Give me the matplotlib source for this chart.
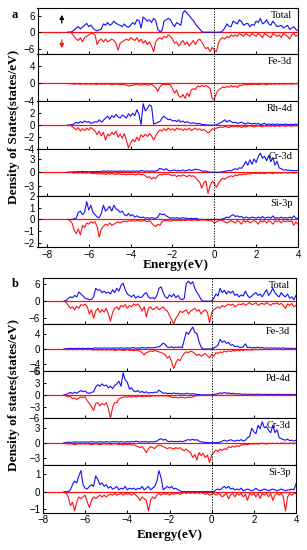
import numpy as np
import matplotlib
matplotlib.use("Agg")
import matplotlib.pyplot as plt

# ---------------- data (energy grid -7.0 ... 4.0 eV, step 0.1) ----------------
energy = np.round(np.linspace(-7.0, 4.0, 111), 2)

# panel a
a_total_up = [0, 0, 0.2, 0.8, 1.5, 2.0, 1.2, 1.8, 2.5, 3.2,
              2.0, 2.6, 1.5, 0.8, 0.5, 0.8, 1.2, 3.0, 2.5, 3.5,
              2.5, 3.0, 4.0, 3.2, 2.8, 2.5, 2.0, 3.0, 2.0, 1.8,
              2.5, 3.5, 2.8, 4.5, 4.2, 1.5, 5.5, 4.8, 4.0, 4.5,
              3.5, 5.0, 4.2, 1.0, 0.2, 0.5, 4.0, 4.5, 5.0, 4.5,
              3.0, 2.0, 3.5, 3.0, 2.5, 7.0, 7.8, 6.8, 6.0, 5.0,
              4.2, 3.0, 2.0, 1.2, 0.2, 0, 0, 0, 0, 0,
              0, 0, 0, 0, 0.5, 1.5, 3.0, 2.2, 2.0, 4.0,
              3.5, 3.0, 4.5, 3.8, 2.5, 3.0, 3.2, 2.0, 2.8, 2.5,
              4.0, 3.5, 5.0, 3.0, 3.5, 4.5, 3.0, 2.5, 4.0, 3.0,
              2.0, 2.2, 2.5, 1.5, 2.0, 2.5, 1.0, 1.5, 2.0, 1.0,
              0.5]
a_total_dn = [0, 0, -0.5, -1.5, -2.5, -3, -2, -3.5, -2, -1.5,
              -1, -0.5, -0.5, -1, -4.5, -3, -2.5, -3.5, -2.5, -3.5,
              -3, -2.5, -3, -4, -6.5, -4, -3.5, -3, -2.5, -3,
              -2, -2.5, -3, -2, -3.5, -2.5, -4, -3, -4.5, -3.5,
              -5, -7, -3.5, -2.5, -2, -2.5, -1.5, -2, -1, -1.5,
              -2.5, -4, -3.5, -5, -4, -3, -4.5, -3.5, -5, -4,
              -3, -4.5, -3, -2.5, -3.5, -5, -6, -5.5, -7, -5.5,
              -6.5, -7, -4, -2.5, -2, -2.5, -1.5, -2, -1, -1.5,
              -1, -1.5, -0.5, -1, -1.5, -0.5, -1, -1.5, -0.5, -1,
              -1.5, -0.5, -1, -2, -0.5, -1, -1.5, -2, -0.5, -1,
              -1.5, -1, -2, -0.5, -1, -1.5, -2.5, -1, -0.5, -1.5,
              -1]
a_fe_dn = [0, -0.1, -0.1, -0.2, -0.1, -0.15, -0.2, -0.1, -0.15, -0.2,
           -0.1, -0.2, -0.1, -0.2, -0.25, -0.1, -0.2, -0.15, -0.2, -0.1,
           -0.2, -0.3, -0.2, -0.15, -0.2, -0.3, -0.2, -0.3, -0.4, -0.6,
           -0.5, -0.4, -0.3, -0.2, -0.3, -0.4, -0.3, -0.2, -0.4, -0.3,
           -0.2, -0.6, -1.0, -1.8, -0.8, -0.3, -0.2, -0.3, -0.2, -0.3,
           -1.2, -2.2, -1.5, -2.8, -3.2, -2.5, -3.4, -2.2, -3.0, -1.5,
           -1.2, -1.4, -0.6, -0.8, -0.5, -0.7, -0.5, -0.8, -1.2, -3.5,
           -3.6, -2.2, -1.5, -1.2, -0.8, -1.0, -0.7, -0.9, -0.5, -0.8,
           -0.6, -0.9, -0.4, -0.5, -0.3, -0.2, -0.3, -0.2, -0.3, -0.2,
           -0.2, -0.3, -0.2, -0.1, -0.2, -0.3, -0.1, -0.2, -0.1, -0.2,
           -0.1, -0.2, -0.1, -0.2, -0.1, -0.15, -0.1, -0.2, -0.1, -0.1,
           -0.1]
a_rh_up = [0, 0, 0.1, 0.2, 0.5, 0.3, 0.6, 0.4, 0.7, 0.5,
           0.6, 0.3, 0.4, 0.6, 0.5, 0.9, 0.5, 0.8, 1.2, 1.5,
           1.0, 1.6, 1.3, 1.8, 1.4, 1.2, 1.7, 1.5, 1.2, 1.9,
           1.5, 2.0, 1.6, 2.6, 1.8, 0.1, 3.6, 2.4, 2.8, 3.4,
           3.2, 0.2, 0.3, 0.5, 0.6, 1.2, 1.5, 1.2, 0.9, 1.0,
           0.7, 0.8, 0.6, 0.9, 0.5, 0.7, 0.4, 0.6, 0.4, 0.3,
           0.4, 0.3, 0.2, 0.3, 0.1, 0.1, 0.05, 0, 0, 0,
           0, 0.1, 0.2, 0.4, 0.6, 0.9, 0.5, 0.8, 0.6, 0.4,
           0.5, 0.3, 0.4, 0.5, 0.3, 0.2, 0.4, 0.3, 0.2, 0.3,
           0.2, 0.3, 0.1, 0.2, 0.3, 0.1, 0.2, 0.1, 0.2, 0.1,
           0.2, 0.1, 0.15, 0.1, 0.2, 0.1, 0.1, 0.15, 0.1, 0.2,
           0.1]
a_rh_dn = [0, 0, -0.2, -0.5, -0.8, -0.4, -1.0, -0.6, -0.9, -0.5,
           -0.8, -0.4, -0.7, -1.0, -1.6, -1.0, -1.8, -1.2, -2.5, -1.5,
           -1.8, -1.2, -1.6, -1.0, -2.0, -1.5, -2.2, -1.4, -2.6, -3.8,
           -3.0, -2.4, -2.8, -2.0, -2.6, -1.6, -2.0, -1.5, -1.9, -1.4,
           -1.8, -2.5, -1.8, -1.2, -0.8, -1.0, -0.6, -0.9, -0.5, -0.8,
           -0.6, -0.9, -0.5, -0.7, -0.6, -0.9, -0.6, -0.8, -0.5, -0.9,
           -0.7, -0.5, -0.8, -0.6, -0.9, -0.7, -1.0, -1.3, -1.1, -0.6,
           -0.7, -0.5, -0.4, -0.3, -0.4, -0.2, -0.3, -0.4, -0.2, -0.3,
           -0.2, -0.3, -0.2, -0.4, -0.2, -0.3, -0.2, -0.1, -0.2, -0.3,
           -0.2, -0.1, -0.2, -0.3, -0.1, -0.2, -0.1, -0.2, -0.1, -0.2,
           -0.1, -0.2, -0.1, -0.1, -0.2, -0.1, -0.1, -0.2, -0.1, -0.1,
           -0.1]
a_cr_up = [0, 0, 0.05, 0.1, 0.1, 0.15, 0.1, 0.2, 0.1, 0.15,
           0.1, 0.1, 0.15, 0.1, 0.2, 0.1, 0.2, 0.3, 0.2, 0.3,
           0.2, 0.3, 0.2, 0.25, 0.2, 0.3, 0.2, 0.3, 0.2, 0.25,
           0.2, 0.3, 0.2, 0.3, 0.2, 0.4, 0.3, 0.2, 0.3, 0.2,
           0.3, 0.2, 0.3, 0.4, 0.9, 0.7, 0.5, 0.8, 0.4, 0.3,
           0.4, 0.5, 0.3, 0.4, 0.3, 0.5, 0.3, 0.4, 0.6, 0.4,
           0.5, 0.7, 0.6, 0.5, 0.3, 0.2, 0.3, 0.1, 0, 0,
           0, 0, 0, 0.05, 0.1, 0.2, 0.3, 0.4, 0.3, 0.6,
           0.8, 0.6, 1.0, 0.9, 1.5, 2.4, 1.6, 2.8, 1.8, 3.0,
           2.2, 3.5, 4.3, 3.2, 3.6, 2.6, 3.8, 2.4, 3.3, 1.6,
           2.5, 1.0, 0.8, 0.5, 0.6, 0.4, 0.5, 0.3, 0.4, 0.3,
           0.5]
a_cr_dn = [0, 0, -0.1, -0.2, -0.1, -0.2, -0.1, -0.2, -0.15, -0.2,
           -0.1, -0.2, -0.3, -0.2, -0.4, -0.3, -0.4, -0.3, -0.5, -0.3,
           -0.4, -0.3, -0.4, -0.5, -0.3, -0.4, -0.5, -0.4, -0.6, -0.4,
           -0.5, -0.4, -0.6, -0.5, -0.4, -0.6, -0.5, -0.8, -1.2, -1.0,
           -1.5, -1.2, -1.4, -0.8, -0.5, -0.6, -0.4, -0.5, -0.4, -0.6,
           -0.8, -0.6, -1.0, -0.7, -0.9, -0.6, -0.8, -1.0, -0.7, -0.9,
           -0.8, -1.2, -1.8, -2.2, -3.6, -2.4, -2.0, -4.8, -3.0, -2.0,
           -2.6, -3.4, -2.5, -1.8, -1.4, -1.6, -1.2, -1.0, -0.8, -1.0,
           -0.6, -0.8, -0.5, -0.6, -0.4, -0.5, -0.3, -0.4, -0.3, -0.2,
           -0.3, -0.2, -0.3, -0.2, -0.3, -0.2, -0.1, -0.2, -0.3, -0.1,
           -0.2, -0.1, -0.2, -0.1, -0.1, -0.2, -0.1, -0.1, -0.2, -0.1,
           -0.1]
a_si_up = [0, 0, 0, 0.05, 0.1, 0.6, 0.7, 0.4, 0.6, 1.5,
           0.8, 1.2, 0.6, 0.4, 0.2, 0.15, 0.5, 1.2, 0.7, 0.9,
           1.1, 0.7, 1.2, 0.9, 0.8, 0.6, 0.7, 0.4, 0.3, 0.5,
           0.3, 0.4, 0.2, 0.3, 0.2, 0.15, 0.2, 0.1, 0.15, 0.1,
           0.15, 0.1, 0.1, 0.2, 0.5, 0.4, 0.45, 0.3, 0.2, 0.1,
           0.15, 0.1, 0.15, 0.1, 0.1, 0.15, 0.1, 0.1, 0.05, 0.1,
           0.05, 0.1, 0.05, 0, 0, 0, 0, 0, 0, 0,
           0, 0, 0, 0, 0.05, 0.1, 0.2, 0.15, 0.3, 0.4,
           0.25, 0.3, 0.2, 0.25, 0.1, 0.2, 0.15, 0.1, 0.2, 0.15,
           0.1, 0.2, 0.1, 0.25, 0.1, 0.15, 0.2, 0.1, 0.3, 0.1,
           0.15, 0.1, 0.2, 0.1, 0.15, 0.1, 0.2, 0.1, 0.3, 0.1,
           0.1]
a_si_dn = [0, -0.1, -0.3, -0.9, -1.2, -0.8, -1.3, -0.5, -0.7, -0.3,
           -0.4, -0.2, -0.3, -0.2, -0.6, -1.5, -0.8, -0.6, -0.4, -0.5,
           -0.3, -0.5, -0.4, -0.3, -0.2, -0.3, -0.2, -0.15, -0.2, -0.1,
           -0.15, -0.1, -0.15, -0.1, -0.1, -0.15, -0.1, -0.1, -0.2, -0.1,
           -0.3, -0.5, -0.6, -0.4, -0.5, -0.2, -0.1, -0.1, -0.1, -0.15,
           -0.1, -0.05, -0.1, -0.05, -0.1, -0.05, -0.1, -0.05, -0.05, -0.1,
           -0.05, -0.05, -0.1, -0.05, -0.05, -0.05, -0.05, -0.1, -0.05, -0.15,
           -0.3, -0.2, -0.1, -0.05, -0.1, -0.2, -0.3, -0.2, -0.1, -0.2,
           -0.3, -0.1, -0.2, -0.4, -0.1, -0.2, -0.1, -0.3, -0.2, -0.1,
           -0.2, -0.4, -0.1, -0.2, -0.1, -0.3, -0.1, -0.2, -0.4, -0.1,
           -0.2, -0.1, -0.3, -0.1, -0.2, -0.1, -0.2, -0.1, -0.5, -0.2,
           -0.4]

# panel b
b_total_up = [0, 0.3, 1.0, 1.5, 1.2, 2.0, 1.5, 3.2, 2.5, 1.8,
              1.0, 0.8, 0.5, 0.6, 1.5, 4.5, 3.8, 4.0, 3.0, 3.5,
              2.8, 3.2, 2.5, 4.0, 3.0, 4.5, 3.5, 5.5, 6.3, 4.0,
              2.5, 2.0, 1.5, 2.2, 1.0, 1.8, 1.2, 1.5, 2.5, 3.0,
              1.5, 1.0, 1.2, 0.8, 2.0, 4.5, 5.0, 3.0, 1.5, 1.0,
              2.2, 1.5, 2.5, 1.2, 2.0, 0.8, 0.5, 1.0, 6.2, 7.0,
              6.0, 6.8, 4.5, 3.0, 2.0, 0.5, 0, 0, 0, 0,
              0, 1.0, 2.5, 1.8, 4.5, 3.0, 3.8, 2.5, 3.5, 2.8,
              3.5, 2.0, 2.5, 1.5, 2.2, 1.8, 3.5, 2.0, 1.2, 1.8,
              2.5, 3.0, 2.0, 2.5, 1.5, 2.8, 4.0, 2.0, 3.0, 4.5,
              3.0, 2.0, 1.5, 3.0, 2.0, 1.5, 2.5, 1.0, 1.5, 0.5,
              2.0]
b_total_dn = [0, -0.5, -1.5, -2.5, -2.0, -3.0, -1.8, -2.5, -1.2, -1.5,
              -1.0, -2.0, -4.5, -3.0, -6.0, -3.5, -2.5, -4.0, -3.0, -3.8,
              -2.5, -4.5, -7.0, -4.0, -2.5, -2.0, -3.0, -1.5, -2.0, -1.2,
              -2.5, -1.5, -2.0, -1.0, -1.5, -1.0, -2.0, -3.5, -2.0, -5.5,
              -2.5, -2.0, -3.0, -2.5, -2.0, -3.0, -2.5, -2.0, -3.0, -3.5,
              -5.0, -6.5, -8.0, -6.0, -5.0, -3.5, -4.0, -3.5, -3.0, -4.5,
              -3.5, -3.0, -2.5, -3.5, -3.0, -4.5, -3.5, -3.0, -4.0, -7.5,
              -4.0, -3.0, -2.5, -2.0, -2.5, -1.5, -2.0, -1.5, -1.0, -1.5,
              -1.0, -2.0, -1.5, -1.0, -1.2, -0.8, -1.5, -1.0, -0.5, -1.2,
              -1.0, -0.5, -1.5, -1.0, -0.8, -1.2, -0.5, -1.0, -1.5, -0.8,
              -1.0, -0.5, -1.2, -0.8, -1.5, -2.5, -1.0, -1.5, -0.8, -2.0,
              -1.5]
b_fe_up = [0, 0.1, 0.1, 0.2, 0.1, 0.15, 0.1, 0.2, 0.1, 0.2,
           0.1, 0.2, 0.15, 0.1, 0.2, 0.3, 0.2, 0.25, 0.2, 0.3,
           0.2, 0.3, 0.2, 0.25, 0.2, 0.3, 0.2, 0.3, 0.25, 0.2,
           0.3, 0.2, 0.3, 0.4, 0.2, 0.3, 0.2, 0.4, 0.3, 0.2,
           0.4, 0.3, 0.3, 0.4, 0.5, 0.6, 1.0, 1.6, 1.2, 0.5,
           0.4, 0.6, 0.3, 0.5, 0.4, 0.6, 0.3, 2.5, 4.6, 4.0,
           5.0, 6.0, 4.5, 4.2, 2.0, 0.5, 0, 0, 0, 0,
           0, 0.3, 0.6, 1.0, 2.6, 1.8, 2.2, 1.5, 1.8, 1.0,
           1.2, 0.6, 0.8, 0.5, 0.4, 0.6, 1.4, 0.4, 0.5, 0.3,
           0.4, 0.3, 0.5, 0.3, 0.4, 0.2, 0.3, 0.2, 0.3, 0.2,
           0.3, 0.2, 0.25, 0.2, 0.3, 0.15, 0.2, 0.15, 0.2, 0.1,
           0.2]
b_fe_dn = [0, -0.1, -0.2, -0.1, -0.2, -0.1, -0.2, -0.1, -0.15, -0.2,
           -0.1, -0.2, -0.1, -0.2, -0.3, -0.2, -0.3, -0.2, -0.3, -0.2,
           -0.3, -0.2, -0.3, -0.2, -0.4, -0.3, -0.2, -0.3, -0.4, -0.3,
           -0.2, -0.4, -0.3, -0.5, -0.3, -0.4, -0.6, -1.0, -1.6, -1.0,
           -0.8, -0.5, -0.7, -0.4, -0.6, -0.8, -1.0, -1.2, -1.6, -2.5,
           -2.0, -3.5, -5.3, -3.8, -2.8, -3.2, -2.0, -1.2, -0.8, -1.0,
           -0.6, -0.8, -1.2, -1.8, -1.4, -2.0, -1.6, -1.2, -1.9, -2.4,
           -1.5, -2.0, -1.0, -1.2, -0.8, -1.0, -0.6, -0.8, -0.5, -0.7,
           -0.4, -0.6, -0.3, -0.5, -0.3, -0.4, -0.2, -0.3, -0.2, -0.3,
           -0.2, -0.1, -0.2, -0.1, -0.2, -0.1, -0.15, -0.1, -0.2, -0.1,
           -0.1, -0.15, -0.1, -0.1, -0.2, -0.1, -0.1, -0.1, -0.15, -0.1,
           -0.1]
b_pd_up = [0, 0.1, 0.4, 0.6, 0.3, 0.7, 0.4, 0.8, 1.1, 0.8,
           1.0, 0.5, 0.4, 0.6, 0.8, 2.0, 2.6, 2.2, 2.8, 2.3,
           2.5, 1.8, 2.2, 1.6, 2.4, 2.8, 3.5, 2.2, 5.6, 3.8,
           3.2, 1.5, 1.8, 1.0, 0.8, 1.1, 0.6, 0.9, 0.5, 0.8,
           0.4, 0.6, 0.5, 0.7, 0.6, 1.2, 0.8, 0.4, 0.5, 0.3,
           0.4, 0.3, 0.5, 0.3, 0.4, 0.2, 0.3, 0.2, 0.4, 0.3,
           0.2, 0.3, 0.2, 0.1, 0.05, 0, 0, 0, 0, 0,
           0, 0.1, 0.2, 0.3, 0.5, 0.4, 0.6, 0.4, 0.5, 0.3,
           0.4, 0.3, 0.2, 0.3, 0.2, 0.1, 0.2, 0.1, 0.2, 0.1,
           0.15, 0.1, 0.2, 0.1, 0.1, 0.15, 0.1, 0.1, 0.15, 0.1,
           0.1, 0.1, 0.15, 0.1, 0.1, 0.1, 0.1, 0.1, 0.1, 0.1,
           0.1]
b_pd_dn = [0, -0.3, -0.5, -0.4, -1.0, -0.8, -1.2, -0.8, -0.5, -0.7,
           -0.5, -1.5, -2.2, -3.0, -4.0, -2.2, -2.0, -2.8, -2.2, -2.6,
           -2.0, -3.5, -6.0, -3.2, -2.0, -2.0, -1.0, -0.8, -0.6, -0.5,
           -0.6, -0.4, -0.6, -0.3, -0.5, -0.4, -0.3, -0.5, -0.3, -0.4,
           -0.3, -0.4, -0.2, -0.3, -0.2, -0.3, -0.2, -0.3, -0.2, -0.3,
           -0.4, -0.6, -0.7, -0.6, -0.8, -0.7, -0.6, -0.8, -0.7, -0.6,
           -0.7, -0.5, -0.3, -0.2, -0.2, -0.1, -0.2, -0.1, -0.2, -0.1,
           -0.2, -0.1, -0.1, -0.15, -0.1, -0.1, -0.15, -0.1, -0.1, -0.15,
           -0.1, -0.1, -0.15, -0.1, -0.1, -0.1, -0.15, -0.1, -0.1, -0.1,
           -0.1, -0.15, -0.1, -0.1, -0.1, -0.1, -0.15, -0.1, -0.1, -0.1,
           -0.1, -0.1, -0.1, -0.15, -0.1, -0.1, -0.1, -0.1, -0.1, -0.1,
           -0.1]
b_cr_up = [0, 0.05, 0.1, 0.05, 0.1, 0.1, 0.15, 0.1, 0.1, 0.15,
           0.1, 0.15, 0.1, 0.2, 0.1, 0.15, 0.1, 0.2, 0.15, 0.1,
           0.2, 0.15, 0.1, 0.2, 0.15, 0.2, 0.1, 0.2, 0.15, 0.1,
           0.2, 0.1, 0.2, 0.15, 0.3, 0.2, 0.1, 0.2, 0.15, 0.2,
           0.1, 0.2, 0.15, 0.2, 0.3, 0.6, 0.8, 0.5, 0.7, 0.3,
           0.2, 0.3, 0.2, 0.25, 0.2, 0.3, 0.2, 0.3, 0.5, 0.6,
           0.5, 0.7, 0.5, 0.6, 0.3, 0.15, 0.1, 0.05, 0, 0,
           0, 0, 0, 0.05, 0.1, 0.3, 0.5, 0.3, 0.4, 0.6,
           0.4, 0.3, 0.5, 0.4, 0.6, 0.3, 0.5, 1.0, 1.2, 2.9,
           2.2, 1.8, 3.5, 2.8, 4.2, 3.0, 3.2, 2.5, 2.0, 3.5,
           2.0, 2.6, 1.0, 0.8, 0.6, 0.5, 0.7, 0.4, 0.5, 0.3,
           0.5]
b_cr_dn = [0, -0.1, -0.3, -0.2, -0.3, -0.4, -0.3, -0.2, -0.3, -0.2,
           -0.3, -0.2, -0.3, -0.4, -0.3, -0.2, -0.3, -0.4, -0.3, -0.2,
           -0.3, -0.2, -0.4, -0.3, -0.2, -0.3, -0.4, -0.3, -0.5, -0.3,
           -0.4, -0.3, -0.5, -0.4, -0.6, -0.8, -1.0, -0.8, -1.3, -2.0,
           -1.2, -0.8, -1.0, -1.2, -0.7, -0.5, -0.6, -0.8, -1.0, -1.2,
           -1.0, -1.1, -1.3, -1.0, -1.2, -1.0, -1.4, -1.6, -1.3, -1.7,
           -2.0, -3.0, -2.4, -3.5, -2.0, -2.6, -2.2, -3.0, -2.5, -4.0,
           -2.5, -2.0, -1.5, -1.8, -1.3, -1.6, -1.2, -1.4, -0.8, -1.0,
           -0.7, -0.9, -0.6, -0.8, -0.4, -0.5, -0.3, -0.4, -0.3, -0.2,
           -0.3, -0.2, -0.3, -0.2, -0.1, -0.2, -0.3, -0.1, -0.2, -0.1,
           -0.2, -0.1, -0.2, -0.1, -0.15, -0.1, -0.2, -0.1, -0.1, -0.15,
           -0.1]
b_si_up = [0, 0, 0, 0.1, 0.4, 0.6, 0.5, 0.9, 1.2, 0.4,
           0.2, 0.15, 0.3, 0.4, 0.3, 0.9, 0.7, 0.4, 0.5, 0.3,
           0.4, 0.2, 0.3, 0.15, 0.2, 0.3, 0.1, 0.2, 0.15, 0.3,
           0.1, 0.2, 0.15, 0.2, 0.1, 0.2, 0.15, 0.3, 0.1, 0.2,
           0.3, 0.1, 0.2, 0.3, 0.6, 1.2, 0.8, 0.1, 0.2, 0.3,
           0.2, 0.3, 0.15, 0.2, 0.1, 0.05, 0, 0, 0, 0,
           0, 0, 0, 0, 0, 0, 0, 0, 0, 0,
           0, 0, 0.1, 0.15, 0.1, 0.2, 0.3, 0.2, 0.3, 0.15,
           0.2, 0.1, 0.15, 0.1, 0.2, 0.05, 0.1, 0.15, 0.1, 0.05,
           0.1, 0.2, 0.1, 0.05, 0.1, 0.15, 0.1, 0.05, 0.1, 0.15,
           0.1, 0.05, 0.1, 0.15, 0.1, 0.05, 0.1, 0.1, 0.15, 0.1,
           0.45]
b_si_dn = [0, -0.1, -0.3, -0.8, -0.6, -1.1, -0.6, -0.3, -0.4, -0.3,
           -0.2, -0.6, -0.9, -0.5, -0.3, -0.4, -0.3, -0.2, -0.3, -0.2,
           -0.3, -0.2, -0.15, -0.2, -0.1, -0.2, -0.15, -0.1, -0.2, -0.1,
           -0.15, -0.1, -0.2, -0.1, -0.2, -0.3, -0.5, -0.3, -0.4, -0.5,
           -1.1, -0.5, -0.3, -0.4, -0.2, -0.1, -0.2, -0.1, -0.15, -0.1,
           -0.2, -0.1, -0.15, -0.1, -0.1, -0.15, -0.1, -0.05, -0.1, -0.05,
           -0.1, -0.05, -0.1, -0.05, -0.1, -0.05, -0.1, -0.15, -0.1, -0.2,
           -0.15, -0.1, -0.2, -0.1, -0.15, -0.3, -0.2, -0.1, -0.4, -0.2,
           -0.1, -0.3, -0.1, -0.2, -0.1, -0.3, -0.15, -0.5, -0.1, -0.2,
           -0.1, -0.3, -0.1, -0.4, -0.1, -0.2, -0.1, -0.3, -0.1, -0.5,
           -0.2, -0.1, -0.2, -0.1, -0.3, -1.1, -0.3, -0.1, -0.2, -0.1,
           -0.1]

x_ticks = [-8, -6, -4, -2, 0, 2, 4]
a_names = ["Total", "Fe-3d", "Rh-4d", "Cr-3d", "Si-3p"]
b_names = ["Total", "Fe-3d", "Pd-4d", "Cr-3d", "Si-3p"]
a_up = [a_total_up, None, a_rh_up, a_cr_up, a_si_up]
a_dn = [a_total_dn, a_fe_dn, a_rh_dn, a_cr_dn, a_si_dn]
b_up = [b_total_up, b_fe_up, b_pd_up, b_cr_up, b_si_up]
b_dn = [b_total_dn, b_fe_dn, b_pd_dn, b_cr_dn, b_si_dn]
a_ylims = [(-8, 8.75), (-4, 6.6), (-4, 4.05), (-5.3, 5.25), (-2.35, 2.0)]
a_yticks = [[-6, 0, 6], [-4, 0, 4], [-4, -2, 0, 2], [-3, 0, 3], [-2, -1, 0, 1, 2]]
b_ylims = [(-8, 8), (-6, 6.8), (-6, 6.1), (-4.5, 4.9), (-1.2, 1.52)]
b_yticks = [[-6, 0, 6], [-6, -4, 0, 4], [-6, -3, 0, 3, 6], [-3, 0, 3], [-1, 0, 1]]

# ---------------- figure ----------------
W, H = 307, 550
fig = plt.figure(figsize=(W / 100, H / 100), dpi=100)
SERIF = ["Liberation Serif", "DejaVu Serif"]
SANS = ["Liberation Sans", "DejaVu Sans"]
BLUE = "#1010ff"
RED = "#ff1010"


def build_panel(left_px, right_px, bounds_px, xlim, names, ups, dns, ylims, yticks):
    axes = []
    for i in range(5):
        top, bot = bounds_px[i], bounds_px[i + 1]
        ax = fig.add_axes([left_px / W, 1 - bot / H, (right_px - left_px) / W, (bot - top) / H])
        ax.axhline(0, color=RED, lw=0.9, zorder=1)
        if ups[i] is not None:
            ax.plot(energy, ups[i], color=BLUE, lw=0.8, zorder=2)
        ax.plot(energy, dns[i], color=RED, lw=0.8, zorder=3)
        ax.axvline(0, color="black", ls=(0, (1.2, 1.5)), lw=0.7, zorder=4)
        ax.set_xlim(*xlim)
        ax.set_ylim(*ylims[i])
        ax.set_yticks(yticks[i])
        ax.set_xticks(x_ticks)
        ax.tick_params(direction="in", length=2.5, width=0.7, labelsize=7, pad=2)
        for lab in ax.get_yticklabels() + ax.get_xticklabels():
            lab.set_fontfamily(SANS)
        if i < 4:
            ax.tick_params(labelbottom=False)
        for s in ax.spines.values():
            s.set_linewidth(0.8)
        ax.text(0.978, 0.94, names[i], transform=ax.transAxes, ha="right", va="top",
                fontsize=7.5, family=SERIF)
        axes.append(ax)
    return axes


axes_a = build_panel(37.5, 298, [8, 54.3, 101, 149, 195.7, 247.3], (-8.45, 4),
                     a_names, a_up, a_dn, a_ylims, a_yticks)
axes_b = build_panel(43, 296, [278.3, 324, 371, 418.3, 465, 512.7], (-8, 4),
                     b_names, b_up, b_dn, b_ylims, b_yticks)

# spin arrows in panel a total
ax0 = axes_a[0]
ax0.annotate("", xy=(-7.29, 7.3), xytext=(-7.29, 2.3),
             arrowprops=dict(arrowstyle="-|>", color="black", lw=0.9, mutation_scale=6))
ax0.annotate("", xy=(-7.29, -6.8), xytext=(-7.29, -1.8),
             arrowprops=dict(arrowstyle="-|>", color=RED, lw=0.9, mutation_scale=6))

# labels
fig.text(15 / W, 1 - 15 / H, "a", fontsize=9, fontweight="bold", family=SERIF, ha="center", va="center")
fig.text(15 / W, 1 - 284 / H, "b", fontsize=9, fontweight="bold", family=SERIF, ha="center", va="center")
fig.text(176 / W, 1 - 265 / H, "Energy(eV)", fontsize=9.5, fontweight="bold", family=SERIF,
         ha="center", va="center")
fig.text(170 / W, 1 - 535 / H, "Energy(eV)", fontsize=9.5, fontweight="bold", family=SERIF,
         ha="center", va="center")
fig.text(14 / W, 1 - 127 / H, "Density of States(states/eV)", rotation=90, fontsize=9.5,
         fontweight="bold", family=SERIF, ha="center", va="center")
fig.text(14 / W, 1 - 395 / H, "Density of states(states/eV)", rotation=90, fontsize=9.5,
         fontweight="bold", family=SERIF, ha="center", va="center")

fig.savefig("out.png", dpi=100)
